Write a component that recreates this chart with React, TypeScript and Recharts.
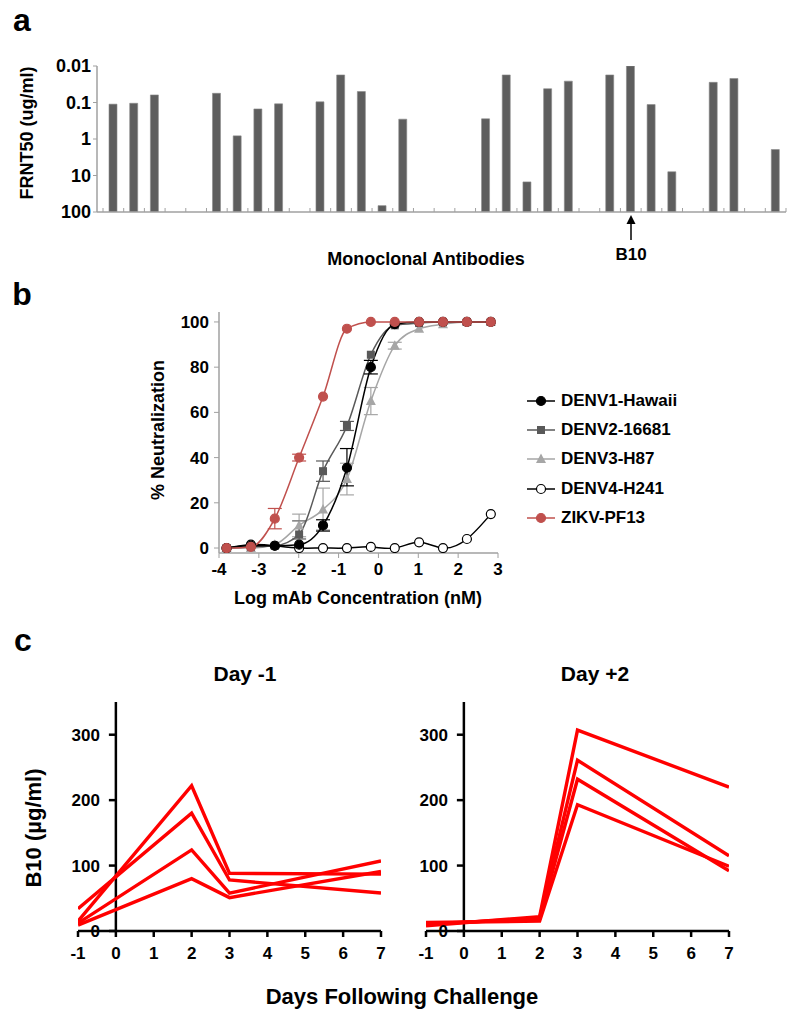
import React from 'react';
import { BarChart, Bar, XAxis, YAxis, LineChart, Line, ErrorBar, ReferenceLine } from 'recharts';

const FONT = '"Liberation Sans", Arial, Helvetica, sans-serif';

// ---------- Panel a : FRNT50 of monoclonal antibodies (null = not neutralizing) ----------
const frnt50: (number | null)[] = [
  0.111, 0.105, 0.062, null, null, 0.056, 0.82, 0.15, 0.109, null,
  0.096, 0.0176, 0.05, 67, 0.286, null, null, null, 0.28, 0.0176,
  15, 0.042, 0.026, null, 0.0176, 0.01, 0.114, 7.9, null, 0.028,
  0.022, null, 1.94,
];
const frntTicks = [0.01, 0.1, 1, 10, 100];
const frntFloor = 100;

// ---------- Panel b : neutralization curves ----------
const logConc = [-3.81, -3.2, -2.6, -1.99, -1.39, -0.79, -0.19, 0.41, 1.02, 1.62, 2.22, 2.82];
const denv1 = [0, 1, 1, 1.5, 10, 35.5, 80, 99, 100, 100, 100, 100];
const denv2 = [0, 0.5, 1, 6, 34, 54, 85.5, 98.5, 99.5, 100, 100, 100];
const denv3 = [0, 0, 1.5, 10, 17, 30.5, 65, 89.5, 97, 99, 100, 100];
const denv4 = [0, 1.5, 1, 0, 0, 0, 0.5, 0, 2.5, 0, 4, 15];
const zikv = [0, 0.5, 13, 40, 67, 97, 100, 100, 100, 100, 100, 100];
const denv1Err: ([number, number] | null)[] = [null, null, null, null, [2.5, 2.5], [8, 8.5], [3, 3], null, null, null, null, null];
const denv2Err: ([number, number] | null)[] = [null, null, null, [2, 6], [4.5, 4.5], [2, 2], null, null, null, null, null, null];
const denv3Err: ([number, number] | null)[] = [null, null, null, [5, 5], [9, 9.5], [7, 7], [6, 6], [1.5, 1.5], null, null, null, null];
const zikvErr: ([number, number] | null)[] = [null, null, [4.5, 4.5], [1.5, 1.5], null, null, null, null, null, null, null, null];
const neutTicksY = [0, 20, 40, 60, 80, 100];
const neutTicksX = [-4, -3, -2, -1, 0, 1, 2, 3];

// ---------- Panel c : B10 serum levels ----------
const days = [-1, 2, 3, 7];
const dm1A = [15, 222, 88, 87];
const dm1B = [34, 180, 78, 58];
const dm1C = [12, 124, 58, 107];
const dm1D = [9, 80, 51, 91];
const dp2A = [8, 22, 307, 220];
const dp2B = [10, 20, 261, 115];
const dp2C = [11, 18, 232, 92];
const dp2D = [13, 15, 193, 99];
const dayTicks = [-1, 0, 1, 2, 3, 4, 5, 6, 7];
const b10Ticks = [0, 100, 200, 300];

// ---------- tables ----------
const barData = frnt50
  .map((v, i) => ({ idx: i, v }))
  .filter((d) => d.v != null);
const barBoundaries = frnt50.map((_, i) => i - 0.5).concat([frnt50.length - 0.5]);

const neutData = logConc.map((x, i) => ({
  x,
  d1: denv1[i], d2: denv2[i], d3: denv3[i], d4: denv4[i], z: zikv[i],
  e1: denv1Err[i], e2: denv2Err[i], e3: denv3Err[i], ez: zikvErr[i],
}));

const leftData = days.map((d, i) => ({ d, a: dm1A[i], b: dm1B[i], c: dm1C[i], e: dm1D[i] }));
const rightData = days.map((d, i) => ({ d, a: dp2A[i], b: dp2B[i], c: dp2C[i], e: dp2D[i] }));

// ---------- colours ----------
const C1 = '#000000';
const C2 = '#595959';
const C3 = '#a6a6a6';
const C4 = '#000000';
const CZ = '#c0504d';
const AX = '#a0a0a0';
const RED = '#ff0000';

const boldTick = { fill: '#000', fontSize: 17, fontWeight: 'bold', fontFamily: FONT } as const;

const Txt = ({ x, y, size, rotate, children }: any) => (
  <div
    style={{
      position: 'absolute', left: x, top: y,
      transform: `translate(-50%,-50%)${rotate ? ' rotate(-90deg)' : ''}`,
      fontSize: size, fontWeight: 'bold', whiteSpace: 'nowrap', lineHeight: 1,
      color: '#000', fontFamily: FONT,
    }}
  >
    {children}
  </div>
);

// markers
const circleDot = (fill: string, stroke: string) => (p: any) => {
  if (p.cx == null || p.cy == null) return <g key={p.index} />;
  return <circle key={p.index} cx={p.cx} cy={p.cy} r={4.5} fill={fill} stroke={stroke} strokeWidth={1.2} />;
};
const squareDot = (fill: string) => (p: any) => {
  if (p.cx == null || p.cy == null) return <g key={p.index} />;
  return <rect key={p.index} x={p.cx - 4} y={p.cy - 4} width={8} height={8} fill={fill} />;
};
const triDot = (fill: string) => (p: any) => {
  if (p.cx == null || p.cy == null) return <g key={p.index} />;
  return (
    <polygon key={p.index}
      points={`${p.cx},${p.cy - 5.5} ${p.cx - 5},${p.cy + 4} ${p.cx + 5},${p.cy + 4}`}
      fill={fill} />
  );
};

// inward boundary tick for panel a (drawn upward from the axis line)
const BoundaryTick = (props: any) => {
  const { x, y } = props;
  return <line x1={x} y1={y} x2={x} y2={y - 4} stroke={AX} strokeWidth={1} />;
};

// Panel c geometry
const C_W = 380;
const C_H = 290;
const C_MARGIN = { top: 12, right: 19, bottom: 19, left: 57 };
const C_YAXIS_W = 1;
const C_PLOT_W = C_W - C_MARGIN.left - C_MARGIN.right - C_YAXIS_W;
const C_SHIFT = C_PLOT_W / (dayTicks[dayTicks.length - 1] - dayTicks[0]) * (0 - dayTicks[0]);

const CYTick = (props: any) => {
  const { x, y, payload } = props;
  const ax = x + C_SHIFT;
  return (
    <g>
      <line x1={ax - 7} y1={y} x2={ax} y2={y} stroke="#000" strokeWidth={2.5} />
      <text x={ax - 16} y={y} dy="0.36em" textAnchor="end" fill="#000" fontSize={17} fontWeight="bold" fontFamily={FONT}>
        {payload.value}
      </text>
    </g>
  );
};

const B10Chart = ({ data }: { data: any[] }) => (
  <LineChart width={C_W} height={C_H} data={data} margin={C_MARGIN}>
    <XAxis
      dataKey="d" type="number" domain={[-1, 7]} ticks={dayTicks} allowDataOverflow
      axisLine={{ stroke: '#000', strokeWidth: 2.5 }}
      tickLine={{ stroke: '#000', strokeWidth: 2.5 }}
      tickSize={6} tickMargin={10} height={30} tick={boldTick} interval={0}
    />
    <YAxis
      type="number" domain={[0, 350]} ticks={b10Ticks} allowDataOverflow
      width={C_YAXIS_W} axisLine={false} tickLine={false} tickSize={0} tickMargin={0}
      tick={<CYTick />} interval={0}
    />
    <ReferenceLine x={0} stroke="#000" strokeWidth={2.5} ifOverflow="extendDomain" />
    {['a', 'b', 'c', 'e'].map((k) => (
      <Line key={k} dataKey={k} type="linear" stroke={RED} strokeWidth={3.4} dot={false} isAnimationActive={false} />
    ))}
  </LineChart>
);

const legendItems = [
  { name: 'DENV1-Hawaii', color: C1, shape: 'circle', fill: C1 },
  { name: 'DENV2-16681', color: C2, shape: 'square', fill: C2 },
  { name: 'DENV3-H87', color: C3, shape: 'tri', fill: C3 },
  { name: 'DENV4-H241', color: C4, shape: 'circle', fill: '#fff' },
  { name: 'ZIKV-PF13', color: CZ, shape: 'circle', fill: CZ },
];

const Legend = () => (
  <div style={{ position: 'absolute', left: 525, top: 386 }}>
    {legendItems.map((it) => (
      <div key={it.name} style={{ display: 'flex', alignItems: 'center', height: 29.3 }}>
        <svg width={32} height={14} style={{ marginRight: 4 }}>
          <line x1={2} y1={7} x2={30} y2={7} stroke={it.color} strokeWidth={1.5} />
          {it.shape === 'circle' && <circle cx={16} cy={7} r={4.5} fill={it.fill} stroke={it.color} strokeWidth={1.2} />}
          {it.shape === 'square' && <rect x={12} y={3} width={8} height={8} fill={it.fill} />}
          {it.shape === 'tri' && <polygon points="16,1.5 11,11 21,11" fill={it.fill} />}
        </svg>
        <span style={{ fontFamily: FONT, fontWeight: 'bold', fontSize: 17, color: '#000', whiteSpace: 'nowrap' }}>{it.name}</span>
      </div>
    ))}
  </div>
);

export default function App() {
  return (
    <div style={{ position: 'absolute', left: 0, top: 0, width: 800, height: 1024, background: '#fff', fontFamily: FONT, overflow: 'hidden' }}>
      {/* panel letters */}
      <Txt x={22} y={20} size={32}>a</Txt>
      <Txt x={22} y={294} size={32}>b</Txt>
      <Txt x={23} y={640} size={32}>c</Txt>

      {/* ---------- Panel a ---------- */}
      <div style={{ position: 'absolute', left: 0, top: 40 }}>
        <BarChart width={800} height={190} data={barData} margin={{ top: 26, right: 14, bottom: 16, left: 37 }}>
          <XAxis
            dataKey="idx" type="number" domain={[-0.5, frnt50.length - 0.5]} ticks={barBoundaries}
            allowDataOverflow padding={{ left: 6, right: 0 }}
            axisLine={{ stroke: AX, strokeWidth: 1.5 }} tickLine={false}
            tickSize={0} tickMargin={0} tick={<BoundaryTick />} height={2} interval={0}
          />
          <YAxis
            type="number" scale="log" domain={[0.01, 100]} reversed allowDataOverflow ticks={frntTicks}
            width={60} axisLine={{ stroke: AX, strokeWidth: 1.5 }} tickLine={{ stroke: AX }}
            tickSize={4} tickMargin={2} interval={0}
            tick={{ fill: '#000', fontSize: 18, fontWeight: 'bold', fontFamily: FONT }}
            tickFormatter={(v: number) => String(v)}
          />
          <Bar dataKey={(d: any) => [frntFloor, d.v]} fill="#5e5e5e" stroke="#8a8a8a" strokeWidth={0.6} barSize={8} isAnimationActive={false} />
        </BarChart>
      </div>
      <Txt x={27} y={133} size={18} rotate>FRNT50 (ug/ml)</Txt>
      <Txt x={426} y={259} size={18}>Monoclonal Antibodies</Txt>
      <Txt x={631} y={254} size={17}>B10</Txt>
      <svg style={{ position: 'absolute', left: 621, top: 212 }} width={20} height={32}>
        <line x1={10} y1={28} x2={10} y2={9} stroke="#000" strokeWidth={1.5} />
        <polygon points="10,3 5.5,12 14.5,12" fill="#000" />
      </svg>

      {/* ---------- Panel b ---------- */}
      <div style={{ position: 'absolute', left: 140, top: 300 }}>
        <LineChart width={380} height={280} data={neutData} margin={{ top: 12, right: 22, bottom: 2, left: 29 }}>
          <XAxis
            dataKey="x" type="number" domain={[-4, 3]} ticks={neutTicksX} allowDataOverflow
            axisLine={{ stroke: AX, strokeWidth: 1.5 }} tickLine={{ stroke: AX }}
            tickSize={5} tickMargin={5} height={25} tick={boldTick} interval={0}
          />
          <YAxis
            type="number" domain={[-2.2, 104.4]} ticks={neutTicksY} allowDataOverflow
            width={50} axisLine={{ stroke: AX, strokeWidth: 1.5 }} tickLine={{ stroke: AX }}
            tickSize={5} tickMargin={5} tick={boldTick} interval={0}
          />
          <Line dataKey="d4" type="natural" stroke={C4} strokeWidth={1.5} dot={circleDot('#fff', C4)} isAnimationActive={false} />
          <Line dataKey="d3" type="monotone" stroke={C3} strokeWidth={1.5} dot={triDot(C3)} isAnimationActive={false}>
            <ErrorBar dataKey="e3" direction="y" width={7} stroke={C3} strokeWidth={1.2} />
          </Line>
          <Line dataKey="d2" type="monotone" stroke={C2} strokeWidth={1.5} dot={squareDot(C2)} isAnimationActive={false}>
            <ErrorBar dataKey="e2" direction="y" width={7} stroke={C2} strokeWidth={1.2} />
          </Line>
          <Line dataKey="d1" type="monotone" stroke={C1} strokeWidth={1.5} dot={circleDot(C1, C1)} isAnimationActive={false}>
            <ErrorBar dataKey="e1" direction="y" width={7} stroke={C1} strokeWidth={1.2} />
          </Line>
          <Line dataKey="z" type="monotone" stroke={CZ} strokeWidth={1.5} dot={circleDot(CZ, CZ)} isAnimationActive={false}>
            <ErrorBar dataKey="ez" direction="y" width={7} stroke={CZ} strokeWidth={1.2} />
          </Line>
        </LineChart>
      </div>
      <Txt x={158} y={430} size={18} rotate>% Neutralization</Txt>
      <Txt x={358} y={598} size={18}>Log mAb Concentration (nM)</Txt>
      <Legend />

      {/* ---------- Panel c ---------- */}
      <Txt x={245} y={673} size={21}>Day -1</Txt>
      <Txt x={595} y={673} size={21}>Day +2</Txt>
      <div style={{ position: 'absolute', left: 20, top: 690 }}>
        <B10Chart data={leftData} />
      </div>
      <div style={{ position: 'absolute', left: 368, top: 690 }}>
        <B10Chart data={rightData} />
      </div>
      <Txt x={34} y={828} size={22} rotate>B10 (µg/ml)</Txt>
      <Txt x={402} y={997} size={22}>Days Following Challenge</Txt>
    </div>
  );
}
